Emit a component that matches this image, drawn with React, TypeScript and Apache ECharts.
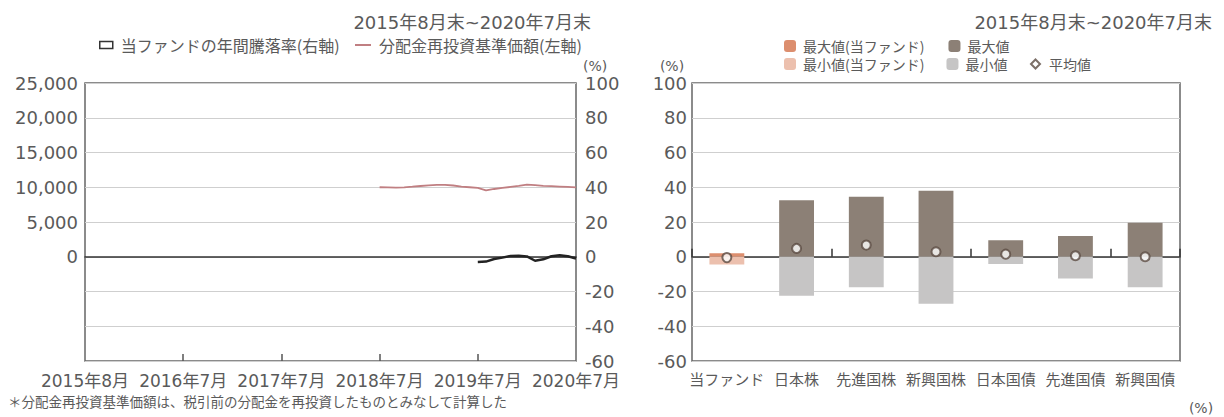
import React, { useEffect, useRef } from "react";
import * as echarts from "echarts";

// ---- Left chart data ----
const startYear = 2015;
const startMonth = 7;
const monthCount = 61;
const months: string[] = [];
for (let i = 0; i < monthCount; i++) {
  const m = ((startMonth - 1 + i) % 12) + 1;
  const y = startYear + Math.floor((startMonth - 1 + i) / 12);
  months.push(`${y}年${m}月`);
}
const xTickLabels = ["2015年8月", "2016年7月", "2017年7月", "2018年7月", "2019年7月", "2020年7月"];
const labelStep = 12;

// 分配金再投資基準価額 (2018年7月〜2020年7月)
const navStart = 36;
const navValues = [
  10000, 9980, 9950, 9990, 10080, 10180, 10280, 10350, 10350, 10250, 10100, 10000,
  9900, 9550, 9750, 9900, 10050, 10200, 10380, 10300, 10200, 10150, 10100, 10050, 9980,
];
// 当ファンドの年間騰落率 (2019年7月〜2020年7月)
const retStart = 48;
const retValues = [-3.0, -2.8, -1.3, -0.5, 0.5, 0.6, 0.2, -2.3, -1.5, 0.3, 0.8, 0.3, -1.0];

// ---- Right chart data ----
const categories = ["当ファンド", "日本株", "先進国株", "新興国株", "日本国債", "先進国債", "新興国債"];
const fundMax = [2.0, null, null, null, null, null, null];
const otherMax = [null, 32.5, 34.5, 38.0, 9.5, 12.0, 19.5];
const fundMin = [-4.5, null, null, null, null, null, null];
const otherMin = [null, -22.5, -17.5, -27.0, -4.2, -12.5, -17.5];
const averages = [-0.5, 4.8, 6.7, 2.9, 1.5, 0.6, 0.0];

const leftYTicks = { min: -15000, max: 25000, interval: 5000 };
const pctTicks = { min: -60, max: 100, interval: 20 };

const FONT = "'DejaVu Sans', 'Noto Sans CJK JP', sans-serif";
const JP = "'Noto Sans CJK JP', sans-serif";
const TXT = "#5a5a5a";

function pad(start: number, vals: number[]) {
  const out: (number | null)[] = [];
  for (let i = 0; i < monthCount; i++) {
    const k = i - start;
    out.push(k >= 0 && k < vals.length ? vals[k] : null);
  }
  return out;
}

export default function App() {
  const ref = useRef<HTMLDivElement>(null);
  useEffect(() => {
    document.body.style.margin = "0";
    if (!ref.current) return;
    const chart = echarts.init(ref.current, undefined, { renderer: "svg" });
    const legendText = { fontSize: 14, color: TXT, fontFamily: JP, padding: [0, 0, 0, 2] };
    const option: any = {
      animation: false,
      title: [
        {
          text: "2015年8月末~2020年7月末",
          right: 1224 - 596,
          top: 8,
          textStyle: { fontSize: 18, fontWeight: "normal", color: TXT, fontFamily: FONT },
        },
        {
          text: "2015年8月末~2020年7月末",
          right: 7,
          top: 8,
          textStyle: { fontSize: 18, fontWeight: "normal", color: TXT, fontFamily: FONT },
        },
      ],
      legend: [
        {
          left: 94,
          top: 32,
          itemWidth: 13,
          itemHeight: 7,
          textStyle: { ...legendText, fontSize: 16, padding: [0, 0, 0, 3] },
          data: [
            {
              name: "当ファンドの年間騰落率(右軸)",
              icon: "rect",
              itemStyle: { color: "#fff", borderColor: "#333", borderWidth: 1.5 },
            },
          ],
        },
        {
          left: 350,
          top: 32,
          itemWidth: 16,
          itemHeight: 2,
          textStyle: { ...legendText, fontSize: 16, padding: [0, 0, 0, 3] },
          data: [{ name: "分配金再投資基準価額(左軸)", icon: "rect" }],
        },
        {
          left: 779,
          top: 34,
          itemWidth: 12,
          itemHeight: 12,
          itemGap: 24,
          textStyle: legendText,
          data: ["最大値(当ファンド)", "最大値"],
        },
        {
          left: 779,
          top: 52,
          itemWidth: 12,
          itemHeight: 12,
          itemGap: 22,
          textStyle: legendText,
          data: ["最小値(当ファンド)", "最小値"],
        },
        {
          left: 1025,
          top: 52,
          itemWidth: 9,
          itemHeight: 9,
          textStyle: { ...legendText, padding: [0, 0, 0, 4] },
          data: [{ name: "平均値", icon: "diamond" }],
        },
      ],
      grid: [
        { left: 85, right: 1224 - 576, top: 83, bottom: 56, show: true, borderColor: "#666", borderWidth: 1.5 },
        { left: 692, right: 44, top: 83, bottom: 56, show: true, borderColor: "#666", borderWidth: 1.5 },
      ],
      xAxis: [
        {
          type: "category",
          gridIndex: 0,
          data: months,
          boundaryGap: false,
          axisLine: { show: false, onZero: false },
          axisTick: {
            show: true,
            inside: true,
            length: 7,
            interval: (i: number) => i % labelStep === 0 && i !== 0 && i !== monthCount - 1,
            lineStyle: { color: "#555", width: 1.5 },
          },
          axisLabel: {
            interval: (i: number) => i % labelStep === 0,
            formatter: (_v: string, i: number) => xTickLabels[Math.round(i / labelStep)] ?? "",
            fontSize: 17,
            color: TXT,
            margin: 11,
            fontFamily: FONT,
          },
          splitLine: { show: false },
        },
        {
          type: "category",
          gridIndex: 0,
          data: months,
          boundaryGap: false,
          position: "bottom",
          axisLine: { show: true, onZero: true, lineStyle: { color: "#333", width: 1.5 } },
          axisTick: { show: false },
          axisLabel: { show: false },
          splitLine: { show: false },
        },
        {
          type: "category",
          gridIndex: 1,
          data: categories,
          axisLine: { show: false, onZero: false },
          axisTick: { show: false },
          axisLabel: { interval: 0, fontSize: 15, color: TXT, margin: 10, fontFamily: JP },
          splitLine: { show: false },
        },
        {
          type: "category",
          gridIndex: 1,
          data: categories,
          position: "bottom",
          axisLine: { show: true, onZero: true, lineStyle: { color: "#333", width: 1.5 } },
          axisTick: { show: true, inside: true, length: 8, lineStyle: { color: "#333", width: 1.5 } },
          axisLabel: { show: false },
          splitLine: { show: false },
        },
      ],
      yAxis: [
        {
          type: "value",
          gridIndex: 0,
          position: "left",
          ...leftYTicks,
          axisLine: { show: false },
          axisTick: { show: false },
          splitLine: { lineStyle: { color: "#cfcfcf", width: 1 } },
          axisLabel: {
            fontSize: 18,
            color: TXT,
            margin: 7,
            fontFamily: FONT,
            formatter: (v: number) => (v < 0 ? "" : v.toLocaleString("en-US")),
          },
        },
        {
          type: "value",
          gridIndex: 0,
          position: "right",
          ...pctTicks,
          axisLine: { show: false },
          axisTick: { show: false },
          splitLine: { show: false },
          axisLabel: { fontSize: 18, color: TXT, margin: 9, fontFamily: FONT },
        },
        {
          type: "value",
          gridIndex: 1,
          position: "left",
          ...pctTicks,
          axisLine: { show: false },
          axisTick: { show: false },
          splitLine: { lineStyle: { color: "#cfcfcf", width: 1 } },
          axisLabel: { fontSize: 18, color: TXT, margin: 5, fontFamily: FONT },
        },
      ],
      series: [
        {
          name: "分配金再投資基準価額(左軸)",
          type: "line",
          xAxisIndex: 0,
          yAxisIndex: 0,
          data: pad(navStart, navValues),
          symbol: "none",
          lineStyle: { color: "#c07f82", width: 1.8 },
          itemStyle: { color: "#c07f82" },
          z: 3,
        },
        {
          name: "当ファンドの年間騰落率(右軸)",
          type: "line",
          xAxisIndex: 0,
          yAxisIndex: 1,
          data: pad(retStart, retValues),
          symbol: "none",
          lineStyle: { color: "#222", width: 2.5 },
          itemStyle: { color: "#222" },
          z: 4,
        },
        {
          name: "最大値(当ファンド)",
          type: "bar",
          xAxisIndex: 2,
          yAxisIndex: 2,
          data: fundMax,
          barWidth: "50%",
          barGap: "-100%",
          itemStyle: { color: "#dc8e6e" },
        },
        {
          name: "最大値",
          type: "bar",
          xAxisIndex: 2,
          yAxisIndex: 2,
          data: otherMax,
          barWidth: "50%",
          barGap: "-100%",
          itemStyle: { color: "#8c8076" },
        },
        {
          name: "最小値(当ファンド)",
          type: "bar",
          xAxisIndex: 2,
          yAxisIndex: 2,
          data: fundMin,
          barWidth: "50%",
          barGap: "-100%",
          itemStyle: { color: "#ecc0ae" },
        },
        {
          name: "最小値",
          type: "bar",
          xAxisIndex: 2,
          yAxisIndex: 2,
          data: otherMin,
          barWidth: "50%",
          barGap: "-100%",
          itemStyle: { color: "#c6c5c5" },
        },
        {
          name: "平均値",
          type: "scatter",
          xAxisIndex: 2,
          yAxisIndex: 2,
          data: averages,
          symbol: "circle",
          symbolSize: 9,
          itemStyle: { color: "#fff", borderColor: "#5b4b42", borderWidth: 2 },
          z: 6,
        },
      ],
      graphic: [
        {
          type: "text",
          x: 583,
          y: 66,
          style: { text: "(%)", fontSize: 14, fill: TXT, fontFamily: FONT, align: "left", verticalAlign: "middle" },
        },
        {
          type: "text",
          x: 672,
          y: 66,
          style: { text: "(%)", fontSize: 14, fill: TXT, fontFamily: FONT, align: "center", verticalAlign: "middle" },
        },
        {
          type: "text",
          x: 8,
          y: 401,
          style: {
            text: "＊分配金再投資基準価額は、税引前の分配金を再投資したものとみなして計算した",
            fontSize: 13.5,
            fill: TXT,
            fontFamily: JP,
            align: "left",
            verticalAlign: "middle",
          },
        },
        {
          type: "text",
          x: 1201,
          y: 408,
          style: { text: "(%)", fontSize: 14, fill: TXT, fontFamily: FONT, align: "center", verticalAlign: "middle" },
        },
      ],
    };
    chart.setOption(option);
    return () => chart.dispose();
  }, []);
  return <div ref={ref} style={{ width: 1224, height: 417 }} />;
}
